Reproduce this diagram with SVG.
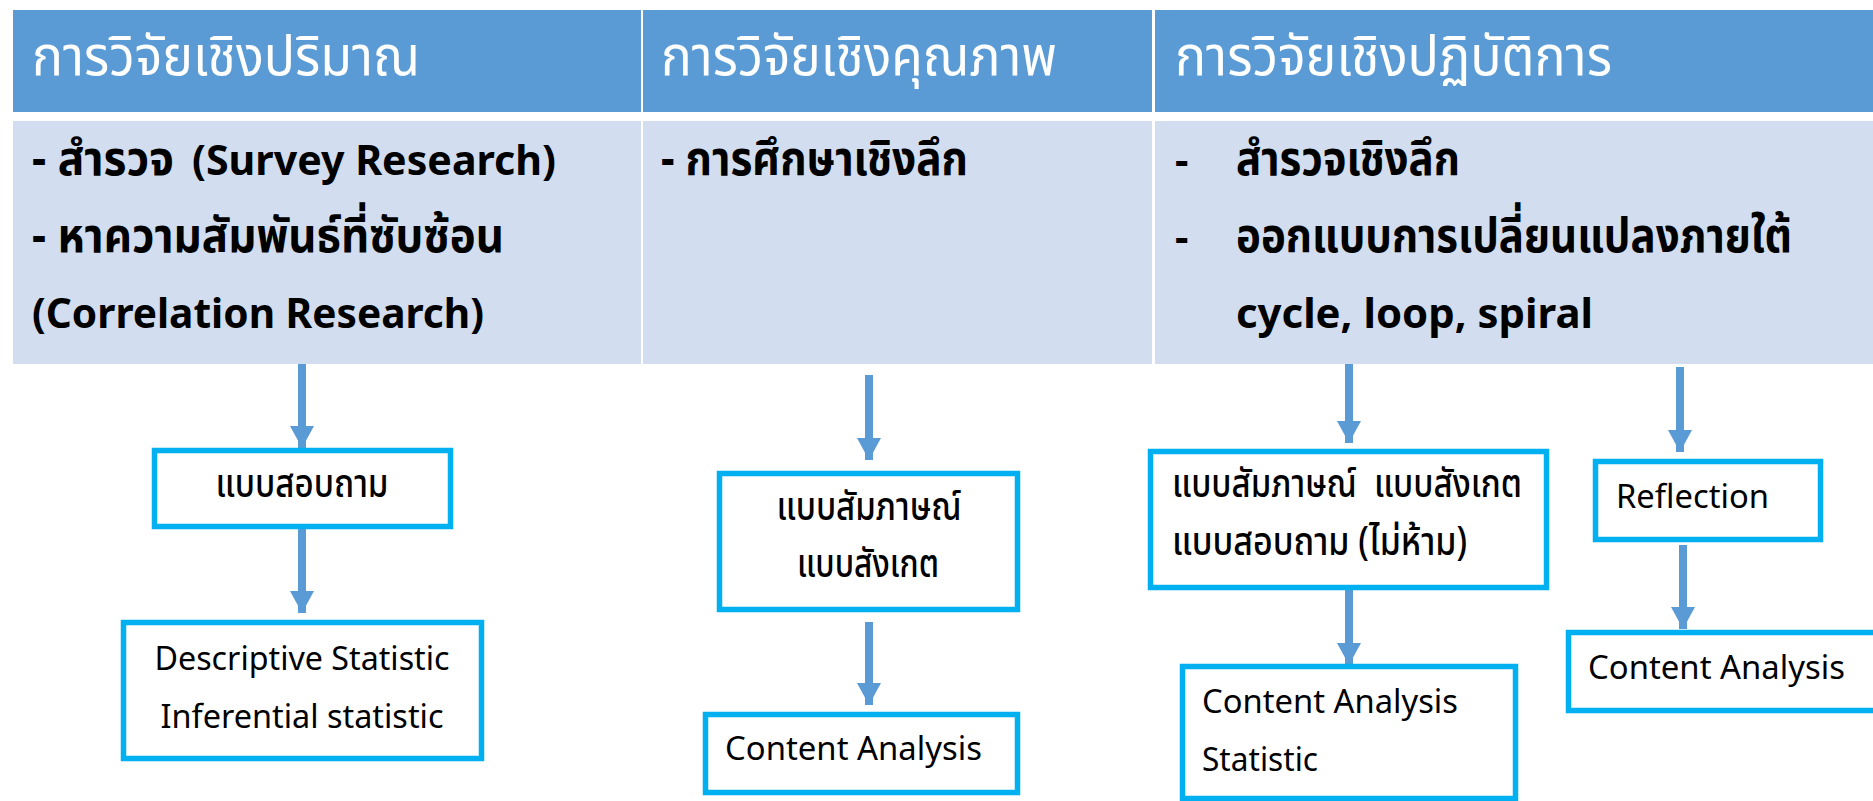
<svg xmlns="http://www.w3.org/2000/svg" width="1873" height="801" viewBox="0 0 1873 801">
<style>
.hdr{fill:#5B9BD5}
.row{fill:#D2DEEF}
.ht{font-family:"Noto Sans","Noto Sans Thai",sans-serif;font-size:55px;fill:#FFFFFF}
.rt{font-family:"Noto Sans","Noto Sans Thai",sans-serif;font-size:42px;font-weight:bold;fill:#000000}
.rth{font-family:"Noto Sans","Noto Sans Thai",sans-serif;font-size:48px;font-weight:bold;fill:#000000}
.box{fill:#FFFFFF;stroke:#00B0F0;stroke-width:5.5}
.bt{font-family:"Noto Sans","Noto Sans Thai",sans-serif;font-size:32px;fill:#000000}
.bth{font-family:"Noto Sans","Noto Sans Thai",sans-serif;font-size:39px;font-weight:500;fill:#000000}
.mid{text-anchor:middle}
.arr{stroke:#5B9BD5;stroke-width:8;fill:none;marker-end:url(#ah)}
</style>
<defs>
<marker id="ah" markerUnits="userSpaceOnUse" markerWidth="24" markerHeight="24" refX="22" refY="12" orient="auto" viewBox="0 0 24 24">
<path d="M0,0 L22,12 L0,24 z" fill="#5B9BD5"/>
</marker>
</defs>
<rect width="1873" height="801" fill="#FFFFFF"/>
<g id="table">
<rect class="hdr" x="13" y="10" width="628" height="102"/>
<rect class="hdr" x="643" y="10" width="509" height="102"/>
<rect class="hdr" x="1155" y="10" width="718" height="102"/>
<rect class="row" x="13" y="121" width="628" height="243"/>
<rect class="row" x="643" y="121" width="509" height="243"/>
<rect class="row" x="1155" y="121" width="718" height="243"/>
<text class="ht" x="32" y="75" textLength="388" lengthAdjust="spacingAndGlyphs">การวิจัยเชิงปริมาณ</text>
<text class="ht" x="661" y="75" textLength="396" lengthAdjust="spacingAndGlyphs">การวิจัยเชิงคุณภาพ</text>
<text class="ht" x="1175" y="75" textLength="437" lengthAdjust="spacingAndGlyphs">การวิจัยเชิงปฏิบัติการ</text>
<text class="rth" x="32" y="175"><tspan textLength="142" lengthAdjust="spacingAndGlyphs">- สำรวจ</tspan><tspan class="rt" x="192" textLength="364" lengthAdjust="spacingAndGlyphs">(Survey Research)</tspan></text>
<text class="rth" x="32" y="252" textLength="472" lengthAdjust="spacingAndGlyphs">- หาความสัมพันธ์ที่ซับซ้อน</text>
<text class="rt" x="32" y="328" textLength="452" lengthAdjust="spacingAndGlyphs">(Correlation Research)</text>
<text class="rth" x="661" y="175" textLength="307" lengthAdjust="spacingAndGlyphs">- การศึกษาเชิงลึก</text>
<text class="rt" x="1175" y="175">-</text>
<text class="rth" x="1236" y="175" textLength="224" lengthAdjust="spacingAndGlyphs">สำรวจเชิงลึก</text>
<text class="rt" x="1175" y="252">-</text>
<text class="rth" x="1236" y="252" textLength="556" lengthAdjust="spacingAndGlyphs">ออกแบบการเปลี่ยนแปลงภายใต้</text>
<text class="rt" x="1236" y="328" textLength="357" lengthAdjust="spacingAndGlyphs">cycle, loop, spiral</text>
</g>
<g id="connectors">
<line class="arr" x1="302" y1="364" x2="302" y2="448"/>
<line class="arr" x1="302" y1="529" x2="302" y2="613"/>
<line class="arr" x1="869" y1="375" x2="869" y2="460"/>
<line class="arr" x1="869" y1="622" x2="869" y2="705"/>
<line class="arr" x1="1349" y1="364" x2="1349" y2="443"/>
<line class="arr" x1="1349" y1="583" x2="1349" y2="665"/>
<line class="arr" x1="1680" y1="367" x2="1680" y2="452"/>
<line class="arr" x1="1683" y1="545" x2="1683" y2="629"/>
</g>
<g id="n1">
<rect class="box" x="154.5" y="450.5" width="296" height="76"/>
<text class="bth mid" x="302" y="497" textLength="173" lengthAdjust="spacingAndGlyphs">แบบสอบถาม</text>
</g>
<g id="n2">
<rect class="box" x="123.5" y="622.5" width="358" height="136"/>
<text class="bt mid" x="302" y="670" textLength="295" lengthAdjust="spacingAndGlyphs">Descriptive Statistic</text>
<text class="bt mid" x="302" y="728" textLength="283" lengthAdjust="spacingAndGlyphs">Inferential statistic</text>
</g>
<g id="n3">
<rect class="box" x="719.5" y="473.5" width="298" height="136"/>
<text class="bth mid" x="869" y="520" textLength="185" lengthAdjust="spacingAndGlyphs">แบบสัมภาษณ์</text>
<text class="bth mid" x="868" y="577" textLength="142" lengthAdjust="spacingAndGlyphs">แบบสังเกต</text>
</g>
<g id="n4">
<rect class="box" x="705.5" y="714.5" width="312" height="78"/>
<text class="bt" x="725" y="760" textLength="257" lengthAdjust="spacingAndGlyphs">Content Analysis</text>
</g>
<g id="n5">
<rect class="box" x="1150.5" y="451.5" width="396" height="136"/>
<text class="bth" x="1172" y="497" xml:space="preserve" textLength="350" lengthAdjust="spacingAndGlyphs">แบบสัมภาษณ์  แบบสังเกต</text>
<text class="bth" x="1172" y="555" textLength="295" lengthAdjust="spacingAndGlyphs">แบบสอบถาม (ไม่ห้าม)</text>
</g>
<g id="n6">
<rect class="box" x="1182.5" y="666.5" width="333" height="132"/>
<text class="bt" x="1202" y="713" textLength="256" lengthAdjust="spacingAndGlyphs">Content Analysis</text>
<text class="bt" x="1202" y="771" textLength="116" lengthAdjust="spacingAndGlyphs">Statistic</text>
</g>
<g id="n7">
<rect class="box" x="1595.5" y="461.5" width="225" height="78"/>
<text class="bt" x="1616" y="508" textLength="153" lengthAdjust="spacingAndGlyphs">Reflection</text>
</g>
<g id="n8">
<rect class="box" x="1568.5" y="632.5" width="320" height="78"/>
<text class="bt" x="1588" y="679" textLength="257" lengthAdjust="spacingAndGlyphs">Content Analysis</text>
</g>
</svg>
